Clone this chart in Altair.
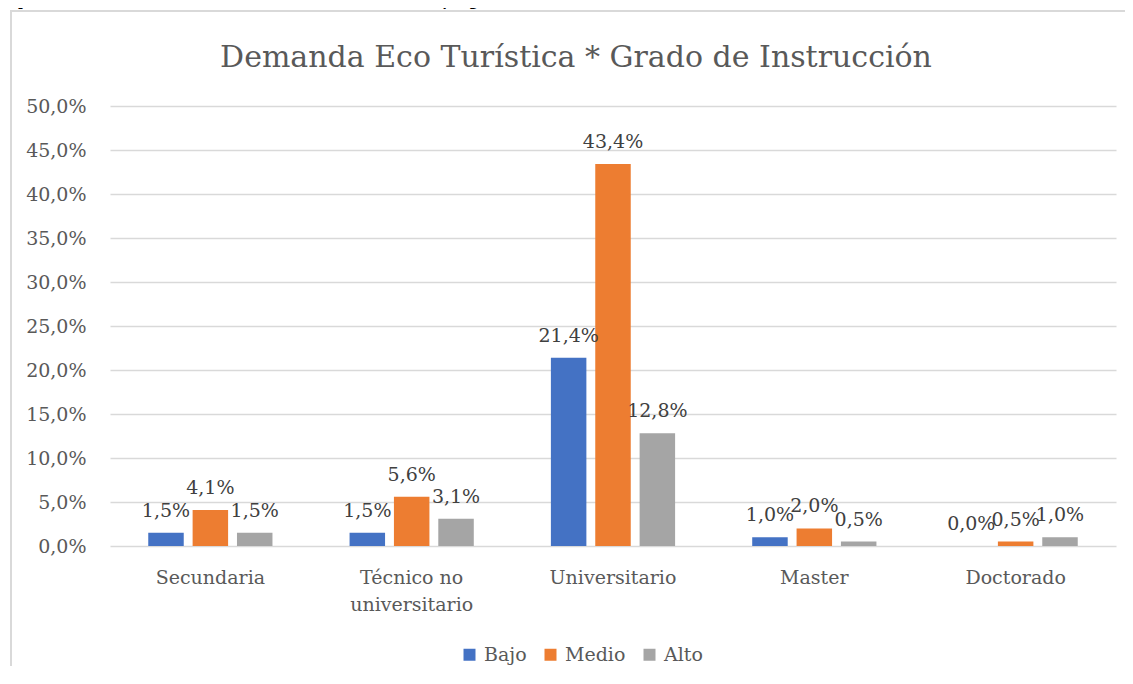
import altair as alt
import pandas as pd

categories = ["Secundaria", "Técnico no universitario", "Universitario", "Master", "Doctorado"]
levels = ["Bajo", "Medio", "Alto"]
bajo = [1.5, 1.5, 21.4, 1.0, 0.0]
medio = [4.1, 5.6, 43.4, 2.0, 0.5]
alto = [1.5, 3.1, 12.8, 0.5, 1.0]
y_ticks = [0, 0.05, 0.10, 0.15, 0.20, 0.25, 0.30, 0.35, 0.40, 0.45, 0.50]
colors = ["#4472C4", "#ED7D31", "#A5A5A5"]
title_text = "Demanda Eco Turística * Grado de Instrucción"
caption_text = "que visitan el humedal Lucre Huacarpay"

rows = []
for i, c in enumerate(categories):
    for lvl, series in zip(levels, [bajo, medio, alto]):
        rows.append({"cat": c, "nivel": lvl, "valor": series[i] / 100.0})
df = pd.DataFrame(rows)

FONT = "DejaVu Serif"
FS = 19
W, H = 1006, 440

x_enc = alt.X(
    "cat:N",
    sort=categories,
    title=None,
    scale=alt.Scale(paddingInner=0.383, paddingOuter=0.19),
    axis=alt.Axis(
        labelAngle=0,
        labelFont=FONT,
        labelFontSize=FS,
        labelColor="#595959",
        labelPadding=22,
        labelLineHeight=27,
        labelExpr="datum.label == 'Técnico no universitario' ? ['Técnico no', 'universitario'] : datum.label",
        domain=False,
        ticks=False,
        grid=False,
    ),
)
xoff_enc = alt.XOffset(
    "nivel:N",
    sort=levels,
    scale=alt.Scale(paddingInner=0.2, paddingOuter=0),
)
y_enc = alt.Y(
    "valor:Q",
    title=None,
    scale=alt.Scale(domain=[0, 0.5], nice=False),
    axis=alt.Axis(
        values=y_ticks,
        labelExpr="replace(format(datum.value, '.1%'), '.', ',')",
        labelFont=FONT,
        labelFontSize=FS,
        labelColor="#595959",
        labelPadding=24,
        domain=False,
        ticks=False,
        grid=True,
        gridColor="#D9D9D9",
        gridWidth=1.3,
    ),
)
color_enc = alt.Color(
    "nivel:N",
    sort=levels,
    scale=alt.Scale(domain=levels, range=colors),
    legend=alt.Legend(
        title=None,
        orient="none",
        direction="horizontal",
        legendX=350,
        legendY=539,
        padding=0,
        symbolType="square",
        symbolSize=144,
        symbolStrokeWidth=0,
        symbolOpacity=1,
        labelFont=FONT,
        labelFontSize=FS,
        labelColor="#595959",
        labelOffset=5,
        columnPadding=14,
    ),
)

bars = alt.Chart(df).mark_bar(stroke=None).encode(
    x=x_enc, xOffset=xoff_enc, y=y_enc, color=color_enc
)

labels = alt.Chart(df).transform_calculate(
    etiqueta="replace(format(datum.valor, '.1%'), '.', ',')"
).mark_text(
    font=FONT, fontSize=FS, color="#404040", baseline="alphabetic", align="center", dy=-16
).encode(
    x=alt.X("cat:N", sort=categories),
    xOffset=alt.XOffset("nivel:N", sort=levels),
    y="valor:Q",
    text="etiqueta:N",
)

border_top = alt.Chart(df).mark_rule(color="#D9D9D9", strokeWidth=1.5).encode(
    x=alt.value(-100), x2=alt.value(1120), y=alt.value(-95)
)
border_left = alt.Chart(df).mark_rule(color="#D9D9D9", strokeWidth=1.5).encode(
    x=alt.value(-99), y=alt.value(-95), y2=alt.value(700)
)
caption = alt.Chart(pd.DataFrame({"t": [caption_text]})).mark_text(
    font=FONT, fontSize=23, fontStyle="italic", color="#000000",
    align="left", baseline="alphabetic"
).encode(x=alt.value(-100), y=alt.value(-102), text="t:N")

title = alt.Chart(pd.DataFrame({"t": [title_text]})).mark_text(
    font=FONT, fontSize=30, color="#595959", align="center", baseline="alphabetic"
).encode(x=alt.value(466), y=alt.value(-39), text="t:N")

chart = alt.layer(border_top, border_left, caption, title, bars, labels).properties(
    width=W,
    height=H,
    padding={"left": 102, "top": 98, "right": 9, "bottom": 120},
    autosize=alt.AutoSizeParams(type="none"),
).configure_view(stroke=None)

chart.save("out.html", embed_options={"renderer": "svg", "actions": False})
